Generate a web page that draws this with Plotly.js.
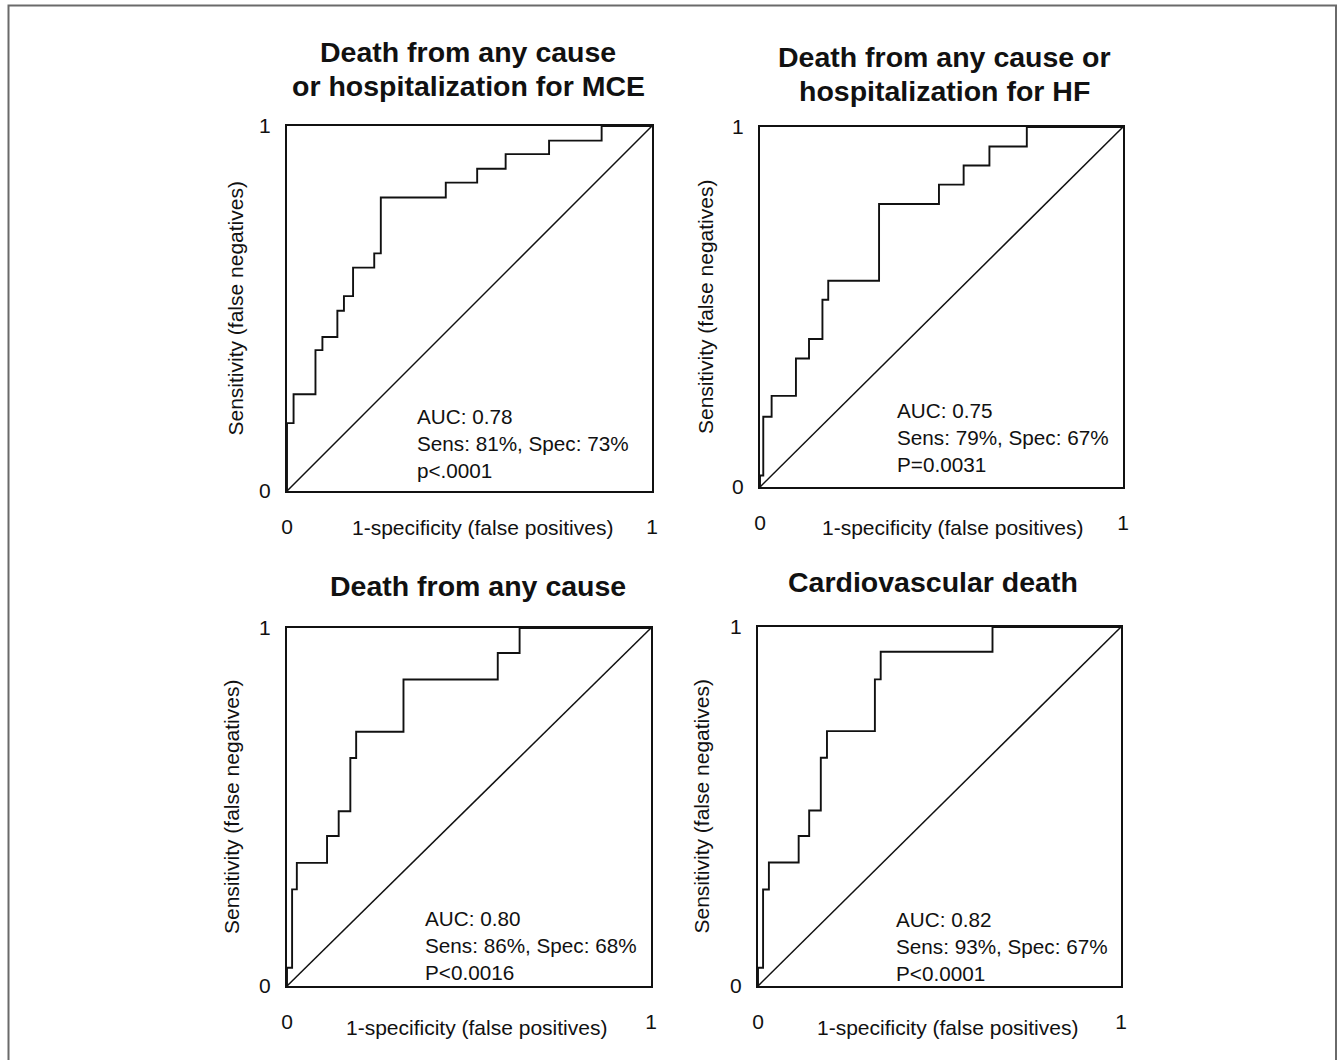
<!DOCTYPE html>
<html>
<head>
<meta charset="utf-8">
<script src="https://cdn.plot.ly/plotly-3.0.1.min.js"></script>
<style>html,body{margin:0;padding:0;background:#fff;}#chart{width:1341px;height:1060px;}</style>
</head>
<body>
<div id="chart"></div>
<script>
// ROC step curves: false-positive rate (1-specificity) and sensitivity at each step corner
const mceFpr  = [0, 0,     0.018, 0.078, 0.097, 0.138, 0.156, 0.181, 0.239, 0.257, 0.435, 0.521, 0.599, 0.718, 0.862, 1];
const mceSens = [0, 0.186, 0.265, 0.386, 0.422, 0.494, 0.534, 0.612, 0.651, 0.804, 0.845, 0.883, 0.923, 0.960, 1.0,   1];

const hfFpr  = [0, 0,     0.009, 0.032, 0.099, 0.135, 0.172, 0.188, 0.328, 0.493, 0.561, 0.632, 0.735, 1];
const hfSens = [0, 0.032, 0.195, 0.253, 0.357, 0.411, 0.520, 0.573, 0.786, 0.840, 0.893, 0.946, 1.0,   1];

const anyFpr  = [0, 0,     0.014, 0.027, 0.110, 0.142, 0.174, 0.190, 0.320, 0.579, 0.639, 1];
const anySens = [0, 0.051, 0.270, 0.344, 0.419, 0.488, 0.637, 0.710, 0.856, 0.930, 1.0,   1];

const cvFpr  = [0, 0,     0.014, 0.030, 0.112, 0.141, 0.173, 0.190, 0.322, 0.338, 0.646, 1];
const cvSens = [0, 0.051, 0.269, 0.344, 0.418, 0.489, 0.636, 0.710, 0.854, 0.931, 1.0,   1];

const chanceLine = [0, 1];

const panelTitles = [
  ["Death from any cause", "or hospitalization for MCE"],
  ["Death from any cause or", "hospitalization for HF"],
  ["Death from any cause"],
  ["Cardiovascular death"]
];
const statTexts = [
  ["AUC: 0.78", "Sens: 81%, Spec: 73%", "p<.0001"],
  ["AUC: 0.75", "Sens: 79%, Spec: 67%", "P=0.0031"],
  ["AUC: 0.80", "Sens: 86%, Spec: 68%", "P<0.0016"],
  ["AUC: 0.82", "Sens: 93%, Spec: 67%", "P<0.0001"]
];
const xAxisTitle = "1-specificity (false positives)";
const yAxisTitle = "Sensitivity (false negatives)";
const tickVals = [0, 1];
const tickText = ["0", "1"];

const curves = [[mceFpr, mceSens], [hfFpr, hfSens], [anyFpr, anySens], [cvFpr, cvSens]];

// layout geometry (pixels in the 1341x1060 figure)
const W = 1341, H = 1060;
const boxes = [
  {l: 287, r: 652, t: 126, b: 491},
  {l: 760, r: 1123, t: 127, b: 487},
  {l: 287, r: 651, t: 628, b: 986},
  {l: 758, r: 1121, t: 627, b: 986}
];
const titleY = [[52, 86], [57, 91], [586], [582]];
const titleX = [468, 944, 478, 933];
const statPos = [[415, 443], [895, 437], [423, 945], [894, 946]];
const xTitlePos = [[482, 527], [952, 527], [476, 1027], [947, 1027]];
const yTitleX = [235, 705, 231, 701];

const FONT = "Liberation Sans, Arial, Helvetica, sans-serif";
const traces = [];
const layout = {
  width: W, height: H,
  margin: {l: 0, r: 0, t: 0, b: 0, pad: 0},
  paper_bgcolor: "#ffffff", plot_bgcolor: "#ffffff",
  showlegend: false,
  font: {family: FONT, color: "#111", size: 21},
  annotations: [],
  shapes: [{
    type: "path", xref: "paper", yref: "paper", layer: "above",
    path: `M ${8.5/W},-0.1 L ${8.5/W},${1-5.5/H} L ${1336/W},${1-5.5/H} L ${1336/W},-0.1`,
    line: {color: "#6a6a6a", width: 2}
  }]
};

boxes.forEach((b, i) => {
  const n = i === 0 ? "" : String(i + 1);
  const xa = "x" + n, ya = "y" + n;
  traces.push({x: chanceLine, y: chanceLine, xaxis: xa, yaxis: ya, mode: "lines",
    line: {color: "#111", width: 1.5}, hoverinfo: "skip"});
  traces.push({x: curves[i][0], y: curves[i][1], xaxis: xa, yaxis: ya, mode: "lines",
    line: {color: "#111", width: 1.9, shape: "hv"}, hoverinfo: "skip"});
  const axCommon = {range: [0, 1], showgrid: false, zeroline: false, showline: true, mirror: true,
    linecolor: "#111", linewidth: 2, tickvals: tickVals, ticktext: tickText, ticks: "",
    tickfont: {family: FONT, size: 21, color: "#111"}, fixedrange: true};
  layout["xaxis" + n] = Object.assign({}, axCommon, {domain: [b.l / W, b.r / W], anchor: ya, ticklabelstandoff: 16});
  layout["yaxis" + n] = Object.assign({}, axCommon, {domain: [1 - b.b / H, 1 - b.t / H], anchor: xa, ticklabelstandoff: 10});
  const bw = b.r - b.l, bh = b.b - b.t;
  // titles
  panelTitles[i].forEach((line, k) => {
    layout.annotations.push({text: "<b>" + line + "</b>", xref: xa + " domain", yref: ya + " domain",
      x: (titleX[i] - b.l) / bw, y: (b.b - titleY[i][k]) / bh, xanchor: "center", yanchor: "middle",
      showarrow: false, font: {family: FONT, size: 28.5, color: "#111"}});
  });
  // stats text
  layout.annotations.push({text: statTexts[i].join("<br>"), xref: xa, yref: ya,
    x: (statPos[i][0] - b.l) / bw, y: (b.b - statPos[i][1]) / bh, xanchor: "left", yanchor: "middle",
    align: "left", showarrow: false, font: {family: FONT, size: 20.7, color: "#111"}});
  // axis titles
  layout.annotations.push({text: xAxisTitle, xref: xa + " domain", yref: ya + " domain",
    x: (xTitlePos[i][0] - b.l) / bw, y: (b.b - xTitlePos[i][1]) / bh, xanchor: "center", yanchor: "middle",
    showarrow: false, font: {family: FONT, size: 21, color: "#111"}});
  layout.annotations.push({text: yAxisTitle, xref: xa + " domain", yref: ya + " domain", textangle: -90,
    x: (yTitleX[i] - b.l) / bw, y: 0.5, xanchor: "center", yanchor: "middle",
    showarrow: false, font: {family: FONT, size: 21, color: "#111"}});
});

Plotly.newPlot("chart", traces, layout, {staticPlot: true, displayModeBar: false});
</script>
</body>
</html>
